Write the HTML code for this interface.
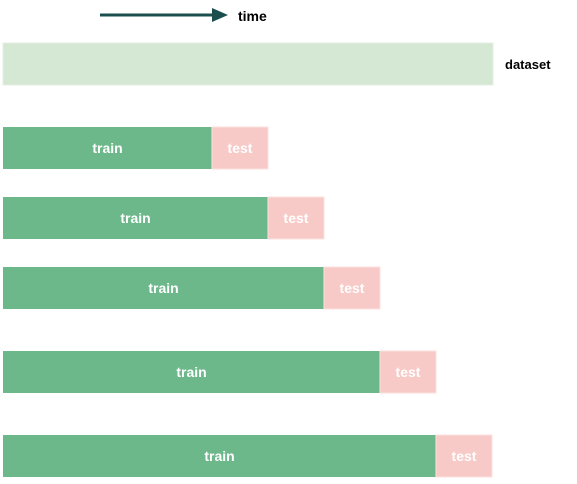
<!DOCTYPE html>
<html><head><meta charset="utf-8"><style>
body{margin:0;background:#fff;width:577px;height:479px;overflow:hidden}
svg text{font-family:"Liberation Sans",sans-serif;font-weight:bold}
</style></head><body>
<svg id="chart" width="577" height="479">
<line x1="100" y1="15" x2="214" y2="15" stroke="#1b4f4d" stroke-width="3"/>
<polygon points="212,8 228,15 212,22" fill="#1b4f4d"/>
<text x="238" y="21" font-size="14" fill="#000">time</text>
<rect x="3" y="43" width="490" height="42" fill="#d5e8d4" stroke="#e4efe3"/>
<text x="505" y="69" font-size="13" fill="#000">dataset</text>
<g id="rows"></g>
</svg>
<script>
const folds = ["fold-1","fold-2","fold-3","fold-4","fold-5"];
const trainLength = [209,265,321,377,433];
const testLength = [56,56,56,56,56];
const rowTop = [127,197,267,351,435];
const x = v => 3 + v;
const H = 42;
const g = document.getElementById('rows');
const ns = 'http://www.w3.org/2000/svg';
function mk(tag, attrs){const e=document.createElementNS(ns,tag);for(const k in attrs)e.setAttribute(k,attrs[k]);return e;}
folds.forEach((f,i)=>{
  const y = rowTop[i];
  const tr = mk('rect',{x:x(0),y:y,width:x(trainLength[i])-x(0),height:H,fill:'#6db88b'});
  
  
  g.appendChild(tr);
  const te = mk('rect',{x:x(trainLength[i]),y:y,width:x(trainLength[i]+testLength[i])-x(trainLength[i]),height:H,fill:'#f7cac8',stroke:'#fbe0de'});
  
  
  g.appendChild(te);
  const tt = mk('text',{x:(x(0)+x(trainLength[i]))/2,y:y+26,'text-anchor':'middle','font-size':'14',fill:'#fff'});
  tt.textContent='train';
  
  
  g.appendChild(tt);
  const ts = mk('text',{x:x(trainLength[i]+testLength[i]/2),y:y+26,'text-anchor':'middle','font-size':'14',fill:'#fff'});
  ts.textContent='test';
  
  
  g.appendChild(ts);
});
</script>
</body></html>
